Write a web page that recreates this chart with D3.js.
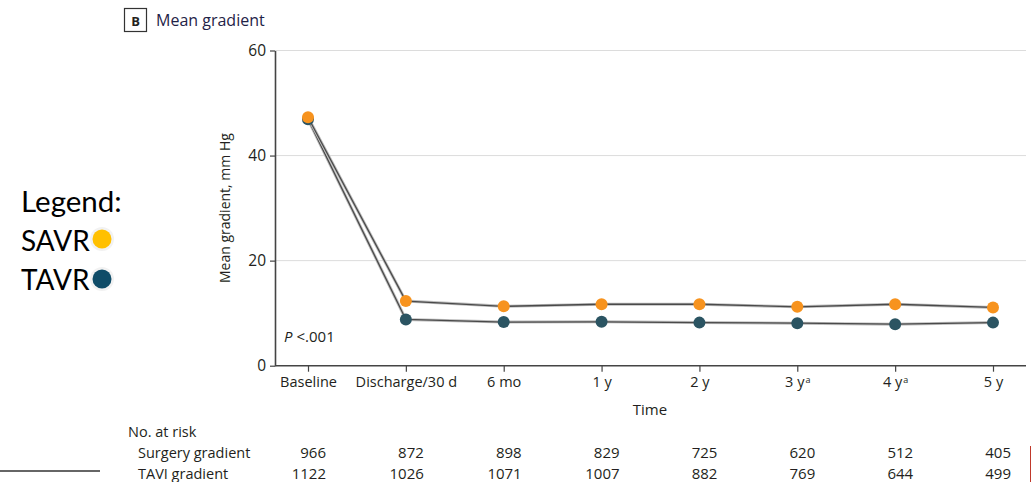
<!DOCTYPE html>
<html>
<head>
<meta charset="utf-8">
<script src="https://cdn.jsdelivr.net/npm/d3@7"></script>
<style>
  html, body { margin: 0; padding: 0; background: #fff; }
  svg { display: block; }
  .chart text { font-family: "Open Sans", "Noto Sans", sans-serif; fill: #231f20; }
  .legend text { font-family: Lato, "Open Sans", sans-serif; fill: #000; }
</style>
</head>
<body>
<svg id="fig" width="1032" height="482"></svg>
<script>
// Follow-up time points and their labels (superscript marker kept separate)
const timepoints = ["Baseline", "Discharge/30 d", "6 mo", "1 y", "2 y", "3 y", "4 y", "5 y"];
const footnoted = ["3 y", "4 y"];

// Mean transvalvular gradient, mm Hg
const savrGradient = [47.3, 12.3, 11.3, 11.7, 11.7, 11.2, 11.7, 11.1];
const tavrGradient = [46.9, 8.8, 8.3, 8.35, 8.2, 8.1, 7.9, 8.2];

// Patients at risk at each time point
const surgeryAtRisk = [966, 872, 898, 829, 725, 620, 512, 405];
const taviAtRisk = [1122, 1026, 1071, 1007, 882, 769, 644, 499];

const yTicks = [0, 20, 40, 60];

const svg = d3.select("#fig");
const g = svg.append("g").attr("class", "chart");

const x = d3.scalePoint().domain(timepoints).range([308, 993]);
const y = d3.scaleLinear().domain([0, 60]).range([365.7, 50.5]);
const plotLeft = 275, plotRight = 1026;

// Panel heading
g.append("rect").attr("x", 124.5).attr("y", 8.5).attr("width", 22).attr("height", 23)
  .attr("fill", "none").attr("stroke", "#333").attr("stroke-width", 1.2);
g.append("text").attr("x", 135.5).attr("y", 25.5).attr("text-anchor", "middle")
  .style("font-size", "13px").style("font-weight", "bold").text("B");
g.append("text").attr("x", 156).attr("y", 26).style("font-size", "16px").style("fill", "#1f2347")
  .text("Mean gradient");

// Horizontal gridlines
g.append("g").selectAll("line").data(yTicks.filter(d => d > 0)).join("line")
  .attr("x1", plotLeft).attr("x2", plotRight)
  .attr("y1", d => y(d)).attr("y2", d => y(d))
  .attr("stroke", "#dcdcdc").attr("stroke-width", 1);

// Y axis
const yAxis = g.append("g").attr("transform", `translate(${plotLeft},0)`)
  .call(d3.axisLeft(y).tickValues(yTicks).tickSize(5).tickSizeOuter(0).tickPadding(4));
yAxis.select(".domain").attr("stroke", "#444").attr("stroke-width", 1.6);
yAxis.selectAll(".tick line").attr("stroke", "#444").attr("stroke-width", 1.2);
yAxis.selectAll(".tick text").style("font-size", "15.5px").style("font-family", null);

// X axis
const xAxis = g.append("g").attr("transform", `translate(0,${y(0)})`)
  .call(d3.axisBottom(x).tickSize(6).tickSizeOuter(0).tickPadding(6).tickFormat(() => ""));
xAxis.select(".domain").remove();
g.append("line").attr("x1", plotLeft).attr("x2", plotRight).attr("y1", y(0)).attr("y2", y(0))
  .attr("stroke", "#444").attr("stroke-width", 1.6);
xAxis.selectAll(".tick line").attr("stroke", "#444").attr("stroke-width", 1.2);
xAxis.selectAll(".tick text").each(function(d) {
  const t = d3.select(this).style("font-size", "14.5px").style("font-family", null).attr("y", 11);
  t.append("tspan").text(d);
  if (footnoted.includes(d)) {
    t.append("tspan").attr("dx", 1).attr("dy", -4).style("font-size", "9px").text("a");
  }
});

// Axis titles
g.append("text").attr("x", 650).attr("y", 415).attr("text-anchor", "middle")
  .style("font-size", "15px").text("Time");
g.append("text").attr("transform", `translate(230,${y(30)}) rotate(-90)`)
  .attr("text-anchor", "middle").style("font-size", "14px").text("Mean gradient, mm Hg");

// P value
const pText = g.append("text").attr("x", 284).attr("y", 342).style("font-size", "15px");
pText.append("tspan").style("font-style", "italic").text("P");
pText.append("tspan").attr("dx", 4).text("<.001");

// Series lines and markers
const series = [
  { values: tavrGradient, color: "#2b5462" },
  { values: savrGradient, color: "#f7931e" }
];
const line = d3.line().x((d, i) => x(timepoints[i])).y(d => y(d));
series.forEach(s => {
  g.append("path").datum(s.values).attr("d", line)
    .attr("fill", "none").attr("stroke", "#bdbdbd").attr("stroke-width", 3);
  g.append("path").datum(s.values).attr("d", line)
    .attr("fill", "none").attr("stroke", "#4a4a4a").attr("stroke-width", 1.3);
});
series.forEach(s => {
  g.append("g").selectAll("circle").data(s.values).join("circle")
    .attr("cx", (d, i) => x(timepoints[i])).attr("cy", d => y(d)).attr("r", 6)
    .attr("fill", s.color);
});

// Numbers at risk table
g.append("text").attr("x", 128).attr("y", 437).style("font-size", "14.5px").text("No. at risk");
const rows = [
  { label: "Surgery gradient", values: surgeryAtRisk, yPos: 458 },
  { label: "TAVI gradient", values: taviAtRisk, yPos: 479 }
];
rows.forEach(r => {
  g.append("text").attr("x", 138).attr("y", r.yPos).style("font-size", "14.5px").text(r.label);
  g.append("g").selectAll("text").data(r.values).join("text")
    .attr("x", (d, i) => x(timepoints[i]) + 18).attr("y", r.yPos)
    .attr("text-anchor", "end").style("font-size", "15px").text(d => d);
});

// Page rules
svg.append("line").attr("x1", 0).attr("x2", 100).attr("y1", 471).attr("y2", 471)
  .attr("stroke", "#333").attr("stroke-width", 1.5);
svg.append("line").attr("x1", 1030.5).attr("x2", 1030.5).attr("y1", 446).attr("y2", 482)
  .attr("stroke", "#c0392b").attr("stroke-width", 1);

// Legend
const legend = svg.append("g").attr("class", "legend");
legend.append("text").attr("x", 21).attr("y", 212).style("font-size", "29.5px").text("Legend:");
const legendItems = [
  { label: "SAVR", color: "#ffc000", cy: 239, base: 251 },
  { label: "TAVR", color: "#0f4c68", cy: 279, base: 290 }
];
legendItems.forEach(item => {
  legend.append("text").attr("x", 21).attr("y", item.base).style("font-size", "28px").text(item.label);
  legend.append("circle").attr("cx", 102).attr("cy", item.cy).attr("r", 12).attr("fill", "#f2f2f2");
  legend.append("circle").attr("cx", 102).attr("cy", item.cy).attr("r", 9.5).attr("fill", item.color);
});
</script>
</body>
</html>
